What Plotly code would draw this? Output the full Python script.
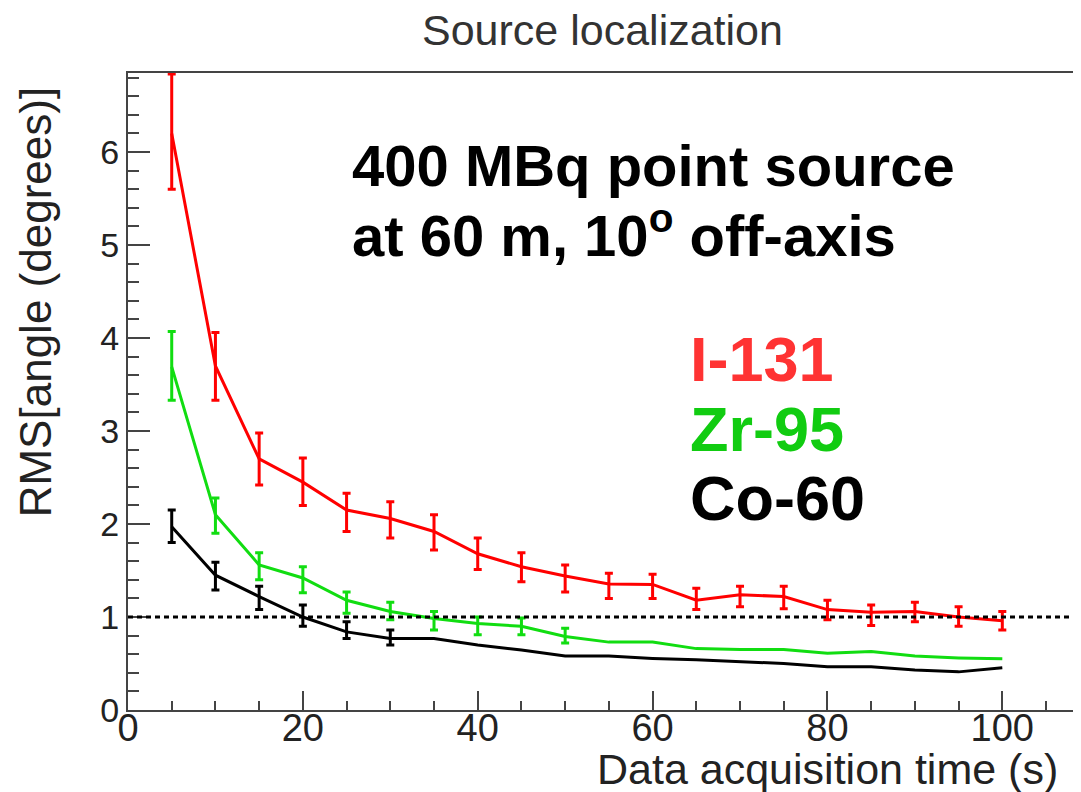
import plotly.graph_objects as go

# ---- data ----
time_s = [5, 10, 15, 20, 25, 30, 35, 40, 45, 50, 55, 60, 65, 70, 75, 80, 85, 90, 95, 100]

i131_rms = [6.2, 3.7, 2.70, 2.45, 2.15, 2.06, 1.92, 1.68, 1.54, 1.44,
            1.355, 1.35, 1.18, 1.24, 1.22, 1.08, 1.05, 1.06, 1.0, 0.96]
i131_err_plus = [0.64, 0.36, 0.28, 0.26, 0.18, 0.18, 0.18, 0.17, 0.15, 0.12,
                 0.115, 0.11, 0.13, 0.09, 0.11, 0.10, 0.08, 0.10, 0.11, 0.10]
i131_err_minus = [0.60, 0.37, 0.28, 0.25, 0.23, 0.21, 0.20, 0.17, 0.16, 0.17,
                  0.155, 0.15, 0.10, 0.13, 0.13, 0.11, 0.14, 0.11, 0.10, 0.10]

zr95_rms = [3.69, 2.10, 1.56, 1.42, 1.18, 1.06, 0.985, 0.93, 0.90, 0.79,
            0.73, 0.73, 0.66, 0.65, 0.65, 0.61, 0.63, 0.58, 0.56, 0.55]
zr95_err_time = [5, 10, 15, 20, 25, 30, 35, 40, 45, 50]
zr95_err_rms = [3.69, 2.10, 1.56, 1.42, 1.18, 1.06, 0.985, 0.93, 0.90, 0.79]
zr95_err_plus = [0.38, 0.18, 0.13, 0.12, 0.09, 0.10, 0.075, 0.07, 0.09, 0.09]
zr95_err_minus = [0.36, 0.20, 0.16, 0.16, 0.14, 0.09, 0.125, 0.12, 0.09, 0.07]

co60_rms = [1.97, 1.45, 1.22, 1.0, 0.84, 0.77, 0.77, 0.70, 0.645, 0.58,
            0.58, 0.555, 0.54, 0.52, 0.50, 0.465, 0.465, 0.43, 0.41, 0.455]
co60_err_time = [5, 10, 15, 20, 25, 30]
co60_err_rms = [1.97, 1.45, 1.22, 1.0, 0.84, 0.77]
co60_err_plus = [0.18, 0.14, 0.11, 0.13, 0.11, 0.09]
co60_err_minus = [0.17, 0.16, 0.14, 0.10, 0.07, 0.07]

reference_level = 1.0

RED = "#ff0000"
GREEN = "#11dd11"
BLACK = "#000000"
FONT = "Liberation Sans, Arial, sans-serif"

fig = go.Figure()

def add_err(x, y, ep, em, color):
    fig.add_trace(go.Scatter(
        x=x, y=y, mode="markers",
        marker=dict(size=1, color=color, opacity=0),
        error_y=dict(type="data", symmetric=False, array=ep, arrayminus=em,
                     color=color, thickness=3, width=4),
        showlegend=False, hoverinfo="skip"))

add_err(time_s, i131_rms, i131_err_plus, i131_err_minus, RED)
add_err(zr95_err_time, zr95_err_rms, zr95_err_plus, zr95_err_minus, GREEN)
add_err(co60_err_time, co60_err_rms, co60_err_plus, co60_err_minus, BLACK)

for y, c, name in [(i131_rms, RED, "I-131"), (zr95_rms, GREEN, "Zr-95"), (co60_rms, BLACK, "Co-60")]:
    fig.add_trace(go.Scatter(x=time_s, y=y, mode="lines", name=name,
                             line=dict(color=c, width=3), showlegend=False))

fig.add_shape(type="line", xref="paper", x0=0, x1=1, yref="y",
              y0=reference_level, y1=reference_level,
              line=dict(color="black", width=3, dash="5px,4px"))

ann = []
ann.append(dict(text="Source localization", xref="paper", yref="paper",
                x=0.498, y=1.068, xanchor="center", yanchor="middle",
                showarrow=False, font=dict(family=FONT, size=43, color="#333333")))
ann.append(dict(text="<b>400 MBq point source</b>", xref="x", yref="y",
                x=25.4, y=5.86, xanchor="left", yanchor="middle", showarrow=False,
                font=dict(family=FONT, size=58, color="black")))
ann.append(dict(text="<b>at 60 m, 10<sup>o</sup> off-axis</b>", xref="x", yref="y",
                x=25.4, y=5.15, xanchor="left", yanchor="middle", showarrow=False,
                font=dict(family=FONT, size=58, color="black")))
for txt, yy, col in [("I-131", 3.77, "#ff3333"), ("Zr-95", 3.02, "#11cc11"), ("Co-60", 2.285, "black")]:
    ann.append(dict(text="<b>%s</b>" % txt, xref="x", yref="y", x=64.1, y=yy,
                    xanchor="left", yanchor="middle", showarrow=False,
                    font=dict(family=FONT, size=63, color=col)))
ann.append(dict(text="Data acquisition time (s)", xref="paper", yref="paper",
                x=0.978, y=-0.093, xanchor="right", yanchor="middle", showarrow=False,
                font=dict(family=FONT, size=43, color="#222222")))
ann.append(dict(text="RMS[angle (degrees)]", xref="paper", yref="paper",
                x=-0.0976, y=0.640, xanchor="center", yanchor="middle", textangle=-90,
                showarrow=False, font=dict(family=FONT, size=44, color="#222222")))

fig.update_layout(
    width=1073, height=784,
    margin=dict(l=120, r=0, t=65, b=82),
    paper_bgcolor="white", plot_bgcolor="white",
    font=dict(family=FONT, color="#222222"),
    annotations=ann,
    xaxis=dict(range=[0, 109.0], showgrid=False, zeroline=False,
               showline=True, linecolor="#444444", linewidth=2, mirror=True,
               ticks="inside", ticklen=19, tickwidth=2, tickcolor="#444444",
               tickmode="linear", tick0=0, dtick=20, ticklabelstandoff=-17,
               minor=dict(ticks="inside", dtick=5, ticklen=9, tickwidth=2, tickcolor="#444444"),
               tickfont=dict(family=FONT, size=38, color="#222222")),
    yaxis=dict(range=[0, 6.85], showgrid=False, zeroline=False,
               showline=True, linecolor="#444444", linewidth=2,
               ticks="inside", ticklen=22, tickwidth=2, tickcolor="#444444",
               tickmode="linear", tick0=0, dtick=1,
               minor=dict(ticks="inside", dtick=0.2, ticklen=11, tickwidth=2, tickcolor="#444444"),
               tickfont=dict(family=FONT, size=34, color="#222222")),
)

fig.write_html("out.html")
